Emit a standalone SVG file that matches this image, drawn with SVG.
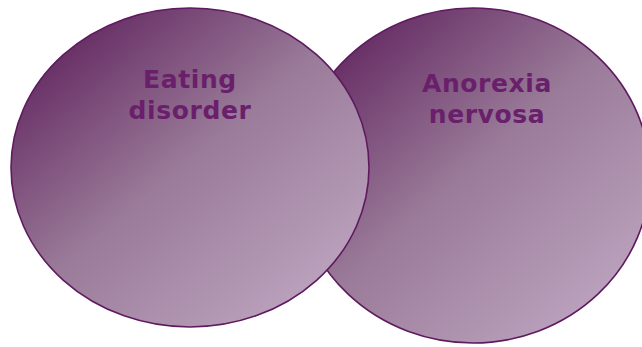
<svg xmlns="http://www.w3.org/2000/svg" width="642" height="347" viewBox="0 0 642 347">
<defs>
<linearGradient id="g" x1="0.1" y1="0.1" x2="0.85" y2="0.9">
<stop offset="0" stop-color="#632861"/>
<stop offset="0.5" stop-color="#9a7b99"/>
<stop offset="1" stop-color="#bba2bd"/>
</linearGradient>
<style>
.c{fill:url(#g);stroke:#5f1a5f;stroke-width:1.6}
.t{font-family:Verdana,"DejaVu Sans",sans-serif;font-weight:bold;font-size:25px;letter-spacing:0.6px;fill:#6a1f6b;text-anchor:middle}
</style>
</defs>
<rect width="642" height="347" fill="#ffffff"/>
<g id="anorexia">
<ellipse class="c" cx="473" cy="175.5" rx="177" ry="167.5"/>
<text class="t" x="487" y="92">Anorexia</text>
<text class="t" x="487" y="123">nervosa</text>
</g>
<g id="eating">
<ellipse class="c" cx="190" cy="167.5" rx="179" ry="159.5"/>
<text class="t" x="190" y="88">Eating</text>
<text class="t" x="190" y="119">disorder</text>
</g>
<g id="connectors"/>
</svg>
